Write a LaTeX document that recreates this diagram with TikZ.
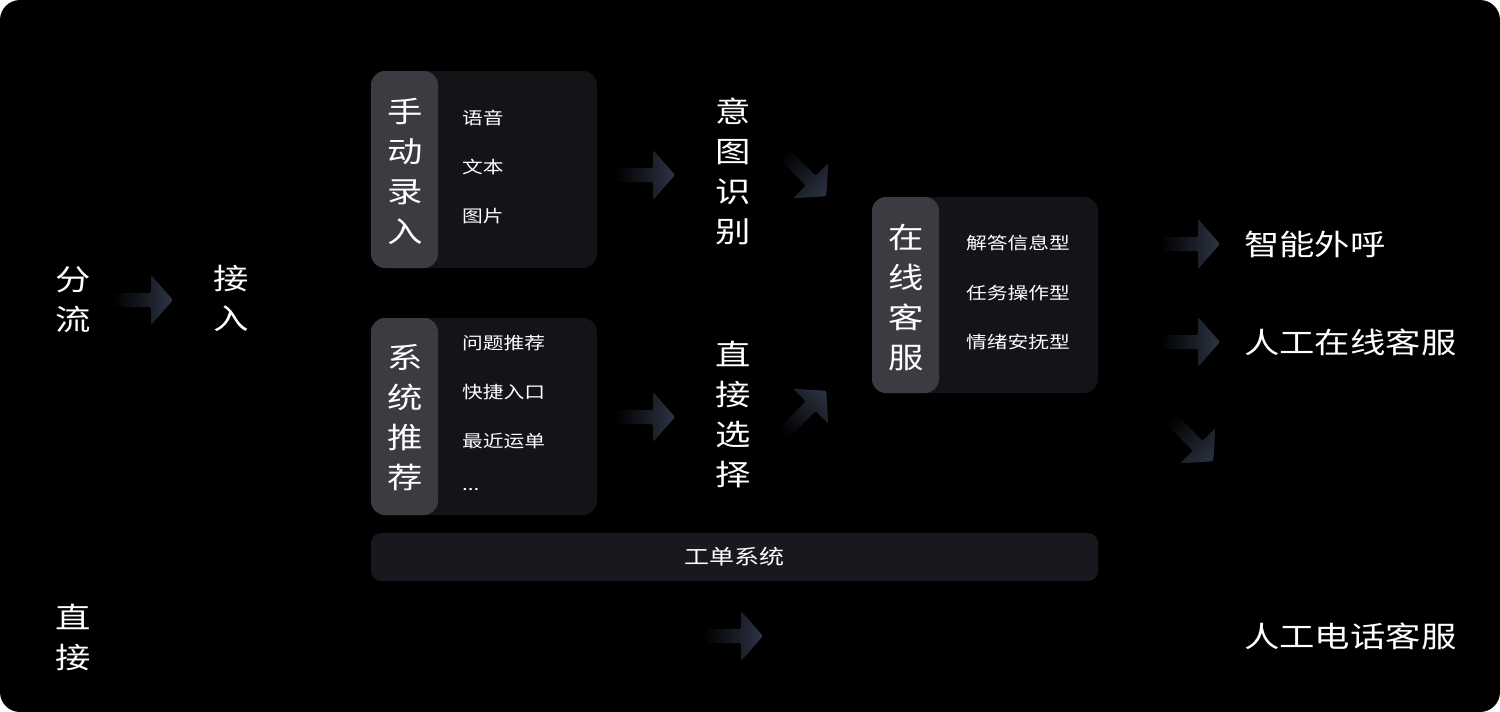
\documentclass[tikz,border=0pt]{standalone}
\usepackage{fontspec}
\setmainfont[FakeStretch=1.22]{Noto Sans CJK SC}
\begin{document}
\begin{tikzpicture}[x=1pt,y=-1pt,
  big/.style={text=white,font=\fontsize{29}{40}\selectfont,align=center,inner sep=0},
  item/.style={text=white,font=\fontsize{17}{20}\selectfont,anchor=west,inner sep=0},
  boxbg/.style={fill=boxc,rounded corners=14pt},
  pill/.style={fill=pillc,rounded corners=14pt}]
\definecolor{boxc}{HTML}{131418}
\definecolor{pillc}{HTML}{3B3C41}
\definecolor{barc}{HTML}{18191E}
\definecolor{arrc}{HTML}{2C3444}
\newcommand{\garrow}[3]{%
  \begin{scope}[transform canvas={shift={(#1,#2)},rotate=#3}]
  \shade[left color=black,right color=arrc,shading angle=90,rounded corners=1.5pt]
    (-30,-7)--(8,-7)--(8,-25)--(30,0)--(8,25)--(8,7)--(-30,7)--cycle;
  \end{scope}}
\fill[white] (0,0) rectangle (1500,712);
\fill[black,rounded corners=20pt] (0,0) rectangle (1500,712);
\useasboundingbox (0,0) rectangle (1500,712);
% boxes
\fill[boxbg] (371,71) rectangle (597,268);
\fill[pill] (371,71) rectangle (438,268);
\fill[boxbg] (371,318) rectangle (597,515);
\fill[pill] (371,318) rectangle (438,515);
\fill[boxbg] (872,197) rectangle (1098,393);
\fill[pill] (872,197) rectangle (939,393);
\node[fill=barc,rounded corners=10pt,minimum width=727pt,minimum height=48pt,text=white,font=\fontsize{20.5}{24}\selectfont] (bar) at (734.5,557) {工单系统};
% texts
\node[big] (fl) at (73,300) {分\\流};
\node[big] (jr) at (231,298) {接\\入};
\node[big] (zj) at (73,637) {直\\接};
\node[big] (sd) at (405,171) {手\\动\\录\\入};
\node[big] (xt) at (405,418) {系\\统\\推\\荐};
\node[big] (yt) at (733,171) {意\\图\\识\\别};
\node[big] (zx) at (733,414) {直\\接\\选\\择};
\node[big] (zk) at (906,297) {在\\线\\客\\服};
\node[item] (a1) at (462,118) {语音};
\node[item] (a2) at (462,167) {文本};
\node[item] (a3) at (462,216) {图片};
\node[item] (b1) at (462,343) {问题推荐};
\node[item] (b2) at (462,392) {快捷入口};
\node[item] (b3) at (462,441) {最近运单};
\node[item] (b4) at (462,490) {...};
\node[item] (c1) at (966,243) {解答信息型};
\node[item] (c2) at (966,293) {任务操作型};
\node[item] (c3) at (966,342) {情绪安抚型};
\node[big,anchor=west] (o1) at (1244,244) {智能外呼};
\node[big,anchor=west] (o2) at (1244,342) {人工在线客服};
\node[big,anchor=west] (o3) at (1244,636) {人工电话客服};
% arrows
\garrow{143}{300}{0}
\garrow{645}{175}{0}
\garrow{645}{417}{0}
\garrow{805}{175}{-45}
\garrow{805}{412}{45}
\garrow{1190}{244}{0}
\garrow{1190}{342}{0}
\garrow{1192}{440}{-45}
\garrow{733}{636}{0}
\end{tikzpicture}
\end{document}
